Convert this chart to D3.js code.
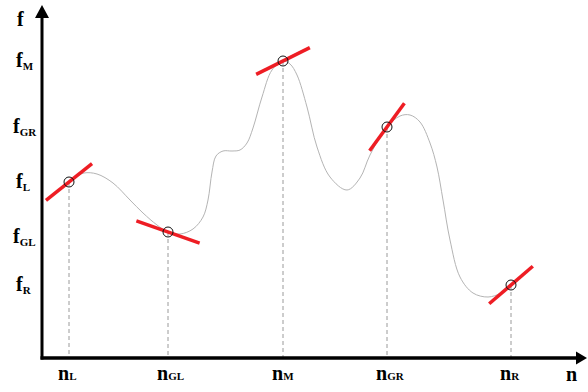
<!DOCTYPE html>
<html>
<head>
<meta charset="utf-8">
<script src="https://cdn.jsdelivr.net/npm/d3@7"></script>
<style>
  html, body { margin: 0; padding: 0; background: #fff; }
  svg { display: block; }
  text { font-family: "Liberation Serif", "Times New Roman", serif; font-weight: bold; fill: #000; }
</style>
</head>
<body>
<svg id="chart" width="588" height="392"></svg>
<script>
// Smooth function f(n): sampled points along the curve
const curveN = [5.4, 6.8, 8.4, 11, 14.2, 17.6, 20.2, 23, 25.2, 27.6, 30.2, 32.2, 33.2, 34, 34.8, 36.2, 38, 39.6, 41, 42.2, 44, 46, 48.2, 49.6, 51, 53, 55, 57.6, 61, 63.6, 65.6, 69, 71.6, 73.6, 75.6, 77.6, 79, 80.2, 81.6, 83.6, 86.2, 89.2, 91.8, 93.8];
const curveF = [35.2, 36.2, 37, 36.8, 35, 31.6, 29, 26.6, 25.2, 24.8, 25.8, 28.2, 31.6, 37.2, 40.4, 41.4, 41.4, 41.6, 43, 46, 52.2, 57.6, 59.4, 58.8, 56.6, 50.2, 42.2, 36.2, 33.6, 36, 40.6, 46.2, 48.4, 48.6, 47.2, 43, 38.2, 31.6, 23.6, 16.2, 13, 12.2, 13, 14.6];

// Marked points with their tangent slopes and segment lengths
const pointSubs = ["L", "GL", "M", "GR", "R"];
const pointN = [5.4, 25.2, 48.2, 69, 93.8];
const pointF = [35.2, 25.2, 59.4, 46.2, 14.6];
const tangentSlope = [0.80, -0.35, 0.50, 1.37, 0.86];
const tangentLength = [11.8, 13.4, 12, 11.8, 11.5];

// Vertical-axis tick labels (f values, in label order)
const fTickSubs = ["M", "GR", "L", "GL", "R"];
const fTickVals = [59.4, 46.2, 35.2, 24.2, 14.6];

const svg = d3.select("#chart");
const x = d3.scaleLinear().domain([0, 108]).range([42, 582]);
const y = d3.scaleLinear().domain([0, 66]).range([358, 28]);

// Dashed drop lines
svg.append("g").selectAll("line").data(pointN).join("line")
  .attr("x1", d => x(d)).attr("x2", d => x(d))
  .attr("y1", (d, i) => y(pointF[i])).attr("y2", y(0))
  .attr("stroke", "#9a9a9a").attr("stroke-width", 1).attr("stroke-dasharray", "4,3");

// Curve
const line = d3.line().x(d => x(d[0])).y(d => y(d[1])).curve(d3.curveCatmullRom.alpha(0.5));
svg.append("path")
  .datum(curveN.map((n, i) => [n, curveF[i]]))
  .attr("d", line)
  .attr("fill", "none").attr("stroke", "#b4b4b4").attr("stroke-width", 1);

// Tangent segments
svg.append("g").selectAll("line").data(pointN).join("line")
  .each(function (n, i) {
    const s = tangentSlope[i];
    const h = tangentLength[i] / 2 / Math.sqrt(1 + s * s);
    d3.select(this)
      .attr("x1", x(n - h)).attr("y1", y(pointF[i] - s * h))
      .attr("x2", x(n + h)).attr("y2", y(pointF[i] + s * h));
  })
  .attr("stroke", "#ee1d24").attr("stroke-width", 3.5);

// Point markers
svg.append("g").selectAll("circle").data(pointN).join("circle")
  .attr("cx", d => x(d)).attr("cy", (d, i) => y(pointF[i]))
  .attr("r", 5)
  .attr("fill", "none").attr("stroke", "#111").attr("stroke-width", 1);

// Axes with arrowheads
const ax = svg.append("g");
ax.append("line").attr("x1", x(0)).attr("x2", x(0)).attr("y1", y(0) + 1.5).attr("y2", 16)
  .attr("stroke", "#000").attr("stroke-width", 3);
ax.append("line").attr("x1", x(0) - 1.5).attr("x2", 578).attr("y1", y(0)).attr("y2", y(0))
  .attr("stroke", "#000").attr("stroke-width", 3.5);
ax.append("path").attr("d", `M${x(0)},5 L${x(0) + 7},18 L${x(0) - 7},18 Z`).attr("fill", "#000");
ax.append("path").attr("d", `M587,${y(0)} L576,${y(0) - 6.5} L576,${y(0) + 6.5} Z`).attr("fill", "#000");

// Axis titles
svg.append("text").attr("x", 17).attr("y", 26).attr("font-size", 20).text("f");
svg.append("text").attr("x", 566).attr("y", 381).attr("font-size", 20).text("n");

// f tick labels
const fl = svg.append("g").selectAll("text").data(fTickVals).join("text")
  .attr("x", (d, i) => fTickSubs[i].length > 1 ? 13 : 16).attr("y", d => y(d) + 6).attr("font-size", 20);
fl.append("tspan").text("f");
fl.append("tspan").attr("font-size", 11).attr("dy", 3).text((d, i) => fTickSubs[i]);

// n tick labels
const nl = svg.append("g").selectAll("text").data(pointN).join("text")
  .attr("x", d => x(d) - 11).attr("y", 380).attr("font-size", 20);
nl.append("tspan").text("n");
nl.append("tspan").attr("font-size", 11).text((d, i) => pointSubs[i]);
</script>
</body>
</html>
